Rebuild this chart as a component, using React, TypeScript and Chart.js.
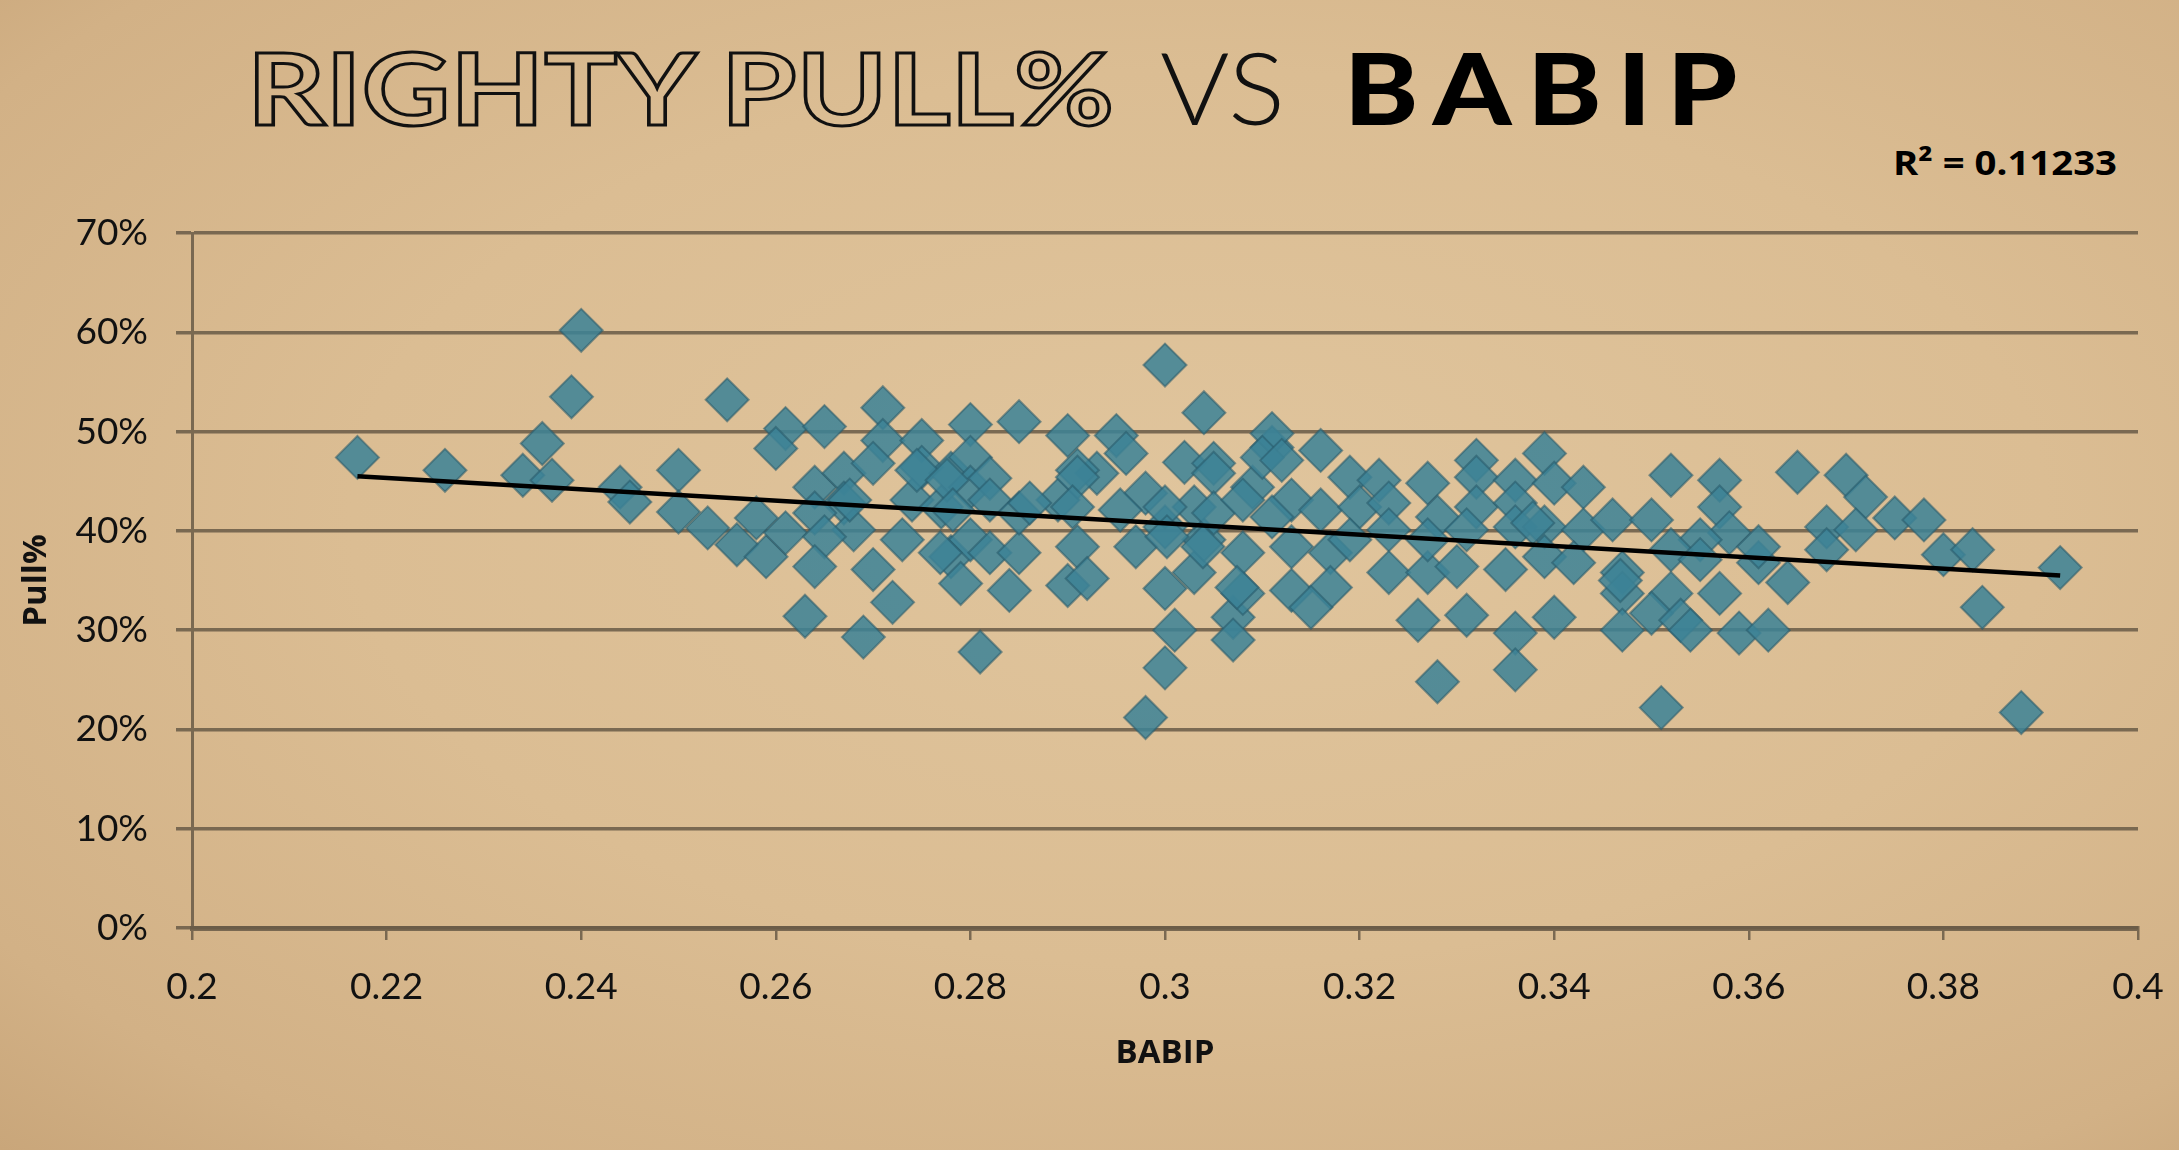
import React, { useRef, useEffect } from "react";
import { Chart, registerables } from "chart.js";

Chart.register(...registerables);

// BABIP (x) and Pull% (y) for each hitter
const babip = [
  0.217, 0.226, 0.24, 0.239, 0.255, 0.236, 0.234, 0.237, 0.244, 0.245,
  0.25, 0.25, 0.253, 0.256, 0.258, 0.259, 0.261, 0.26, 0.261, 0.263,
  0.265, 0.271, 0.271, 0.275, 0.28, 0.285, 0.29, 0.295, 0.3, 0.304,
  0.296, 0.302, 0.305, 0.305, 0.311, 0.264, 0.267, 0.27, 0.275, 0.278,
  0.28, 0.28, 0.282, 0.282, 0.274, 0.277, 0.267, 0.264, 0.268, 0.265,
  0.273, 0.27, 0.272, 0.269, 0.281, 0.278, 0.279, 0.28, 0.282, 0.285,
  0.284, 0.285, 0.289, 0.291, 0.29, 0.292, 0.293, 0.291, 0.298, 0.297,
  0.3, 0.301, 0.3, 0.298, 0.303, 0.3, 0.304, 0.303, 0.305, 0.307,
  0.307, 0.308, 0.308, 0.309, 0.311, 0.264, 0.2745, 0.2776, 0.291, 0.31,
  0.308, 0.3, 0.2954, 0.2905, 0.2861, 0.2782, 0.2676, 0.2769, 0.3002, 0.3039,
  0.3074, 0.316, 0.312, 0.319, 0.322, 0.327, 0.332, 0.332, 0.339, 0.336,
  0.34, 0.343, 0.352, 0.357, 0.313, 0.316, 0.32, 0.323, 0.311, 0.328,
  0.332, 0.336, 0.336, 0.339, 0.343, 0.346, 0.35, 0.357, 0.358, 0.355,
  0.352, 0.313, 0.317, 0.319, 0.323, 0.323, 0.327, 0.327, 0.33, 0.335,
  0.339, 0.342, 0.347, 0.347, 0.352, 0.357, 0.361, 0.355, 0.313, 0.317,
  0.315, 0.326, 0.331, 0.34, 0.336, 0.347, 0.35, 0.353, 0.354, 0.359,
  0.328, 0.336, 0.351, 0.3378, 0.331, 0.3468, 0.365, 0.37, 0.372, 0.375,
  0.378, 0.368, 0.371, 0.368, 0.38, 0.383, 0.392, 0.384, 0.388, 0.361,
  0.364, 0.362,
];

const pull = [
  47.4, 46.1, 60.2, 53.5, 53.2, 48.8, 45.6, 45.1, 44.4, 42.9,
  46.1, 41.9, 40.3, 38.6, 41.3, 37.4, 50.3, 48.3, 39.8, 31.4,
  50.5, 52.4, 49.1, 49.1, 50.7, 51.0, 49.6, 49.6, 56.7, 51.9,
  47.8, 46.9, 46.8, 45.8, 48.4, 44.4, 45.8, 46.8, 46.4, 45.8,
  47.4, 44.4, 45.3, 43.1, 43.1, 42.4, 42.8, 41.8, 40.1, 39.4,
  39.1, 36.1, 32.8, 29.3, 27.8, 37.4, 34.7, 39.1, 37.8, 37.8,
  34.0, 41.8, 43.1, 38.4, 34.5, 35.2, 45.8, 46.1, 43.8, 38.4,
  34.2, 30.0, 26.2, 21.2, 35.8, 40.4, 39.1, 42.4, 41.8, 31.3,
  29.0, 33.7, 37.8, 44.4, 49.8, 36.4, 46.1, 45.1, 45.4, 47.4,
  43.1, 42.4, 42.1, 42.4, 42.8, 42.1, 43.1, 37.8, 39.4, 38.4,
  34.3, 48.1, 47.1, 45.4, 45.1, 44.8, 47.1, 45.4, 47.8, 45.1,
  44.8, 44.4, 45.6, 45.1, 43.1, 42.1, 42.4, 42.8, 41.4, 41.4,
  42.4, 42.8, 40.4, 40.4, 40.1, 41.1, 41.1, 42.4, 39.8, 39.1,
  38.1, 38.4, 37.8, 39.1, 40.1, 35.8, 35.8, 39.1, 36.4, 36.1,
  37.4, 36.8, 35.8, 33.7, 33.7, 33.7, 36.8, 37.1, 34.0, 34.3,
  32.3, 31.0, 31.5, 31.3, 29.7, 30.0, 31.7, 31.0, 30.0, 29.7,
  24.8, 26.0, 22.2, 40.8, 40.1, 35.0, 45.9, 45.6, 43.4, 41.3,
  41.1, 40.4, 40.1, 38.1, 37.6, 38.1, 36.3, 32.3, 21.7, 38.4,
  34.8, 30.0,
];

// linear trend line ends as drawn in the picture
const trendX = [0.217, 0.392];
const trendY = [45.5, 35.5];

const rSquared = "0.11233";

const gridColor = "rgba(104, 90, 70, 0.85)";

const App = () => {
  const chartRef = useRef<any>(null);
  const chartInstanceRef = useRef<any>(null);

  useEffect(() => {
    const ctx = chartRef.current.getContext("2d");

    if (chartInstanceRef.current) {
      chartInstanceRef.current.destroy();
    }

    chartInstanceRef.current = new Chart(ctx, {
      type: "scatter",
      data: {
        datasets: [
          {
            label: "Trend",
            data: trendX.map((x, i) => ({ x, y: trendY[i] })),
            showLine: true,
            borderColor: "#000",
            borderWidth: 4.5,
            pointRadius: 0,
            order: 0,
          },
          {
            label: "Pull%",
            data: babip.map((x, i) => ({ x, y: pull[i] })),
            pointStyle: "rectRot",
            pointRadius: 21.5,
            backgroundColor: "rgba(60, 130, 150, 0.86)",
            borderColor: "rgba(38, 88, 104, 0.55)",
            borderWidth: 2,
            order: 1,
          },
        ],
      },
      options: {
        animation: false,
        responsive: false,
        devicePixelRatio: 1,
        layout: { padding: { top: 233, right: 41, bottom: 0, left: 0 } },
        plugins: {
          legend: { display: false },
          tooltip: { enabled: false },
        },
        scales: {
          x: {
            type: "linear",
            min: 0.2,
            max: 0.4,
            afterFit: (scale: any) => {
              scale.height = 222;
              scale.paddingLeft = 0;
              scale.paddingRight = 0;
            },
            ticks: {
              stepSize: 0.02,
              padding: 25,
              color: "#111",
              font: { family: "Lato", size: 37 },
              callback: (v: any) => String(Number(Number(v).toFixed(2))),
            },
            grid: {
              drawOnChartArea: false,
              drawTicks: true,
              tickLength: 12,
              color: gridColor,
              lineWidth: 2.5,
            },
            border: { color: gridColor, width: 5 },
            title: {
              display: true,
              text: "BABIP",
              color: "#111",
              font: { family: "Open Sans", size: 33, weight: "bold" },
              padding: { top: 0, bottom: 77 },
            },
          },
          y: {
            min: 0,
            max: 70,
            afterFit: (scale: any) => {
              scale.width = 192;
              scale.paddingTop = 0;
              scale.paddingBottom = 0;
            },
            ticks: {
              stepSize: 10,
              padding: 28,
              color: "#111",
              font: { family: "Lato", size: 37 },
              callback: (v: any) => v + "%",
            },
            grid: {
              tickLength: 16,
              color: gridColor,
              lineWidth: 3.5,
            },
            border: { color: gridColor, width: 3 },
            title: {
              display: true,
              text: "Pull%",
              color: "#111",
              font: { family: "Open Sans", size: 33, weight: "bold" },
              padding: { top: 17, bottom: 0 },
            },
          },
        },
      },
    });

    return () => {
      if (chartInstanceRef.current) {
        chartInstanceRef.current.destroy();
      }
    };
  }, []);

  return (
    <div
      style={{
        position: "absolute",
        left: 0,
        top: 0,
        width: 2179,
        height: 1150,
        overflow: "hidden",
        background:
          "radial-gradient(ellipse at 55% 45%, #e0c59d 0%, #dbbd93 50%, #d2b186 85%, #c9a67a 100%)",
      }}
    >
      <svg
        width={2179}
        height={200}
        style={{ position: "absolute", left: 0, top: 0 }}
      >
        <text
          x={247}
          y={125}
          textLength={867}
          lengthAdjust="spacingAndGlyphs"
          fontFamily="Lato"
          fontWeight={700}
          fontSize={100}
          fill="none"
          stroke="#111"
          strokeWidth={3}
        >
          RIGHTY PULL%
        </text>
        <text
          x={1160}
          y={125}
          textLength={125}
          lengthAdjust="spacingAndGlyphs"
          fontFamily="Lato"
          fontWeight={300}
          fontSize={100}
          fill="#111"
        >
          VS
        </text>
        <text
          x={1344}
          y={125}
          textLength={409}
          lengthAdjust="spacingAndGlyphs"
          fontFamily="Lato"
          fontWeight={900}
          fontSize={100}
          letterSpacing={14}
          fill="#000"
        >
          BABIP
        </text>
        <text
          x={1893}
          y={175}
          textLength={224}
          lengthAdjust="spacingAndGlyphs"
          fontFamily="Open Sans"
          fontWeight={700}
          fontSize={34}
          fill="#000"
        >
          R² = {rSquared}
        </text>
      </svg>
      <canvas
        ref={chartRef}
        width={2179}
        height={1150}
        style={{ position: "absolute", left: 0, top: 0 }}
      />
    </div>
  );
};

export default App;
